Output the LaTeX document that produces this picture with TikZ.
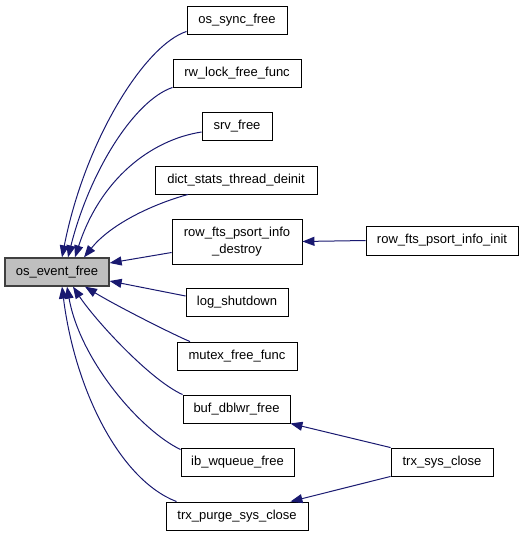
\documentclass[tikz,border=0pt]{standalone}
\usepackage{fontspec}
\setmainfont{Liberation Sans}
\usetikzlibrary{arrows.meta}
\definecolor{edgecol}{HTML}{191970}
\definecolor{mainfill}{HTML}{BFBFBF}
\definecolor{mainborder}{HTML}{404040}
\tikzset{
  fn/.style={draw=black, line width=0.9pt, fill=white, minimum height=28pt, inner sep=0pt, font=\fontsize{13}{16.5}\selectfont, align=center},
  mainfn/.style={fn, fill=mainfill, draw=mainborder, line width=1.3pt},
  call/.style={draw=edgecol, line width=1pt, -{Triangle[length=12pt,width=9pt]}},
}
\begin{document}
\begin{tikzpicture}[x=1pt,y=-1pt]
\useasboundingbox (0,0) rectangle (525,536);
\node[mainfn, minimum width=104pt] (main) at (57,272) {os\_event\_free};
\node[fn, minimum width=100pt] (sync) at (237,20) {os\_sync\_free};
\node[fn, minimum width=128pt] (rw) at (237,73) {rw\_lock\_free\_func};
\node[fn, minimum width=70pt] (srv) at (237,126) {srv\_free};
\node[fn, minimum width=162pt] (dict) at (236,180) {dict\_stats\_thread\_deinit};
\node[fn, minimum width=130pt, minimum height=45pt] (destroy) at (237,241.5) {row\_fts\_psort\_info\\\_destroy};
\node[fn, minimum width=152pt, minimum height=29pt] (init) at (442,240.5) {row\_fts\_psort\_info\_init};
\node[fn, minimum width=102pt] (log) at (237,302) {log\_shutdown};
\node[fn, minimum width=120pt] (mutex) at (237,356) {mutex\_free\_func};
\node[fn, minimum width=107pt] (buf) at (236.5,409) {buf\_dblwr\_free};
\node[fn, minimum width=113pt] (ibw) at (237.5,462) {ib\_wqueue\_free};
\node[fn, minimum width=142pt] (purge) at (237,516) {trx\_purge\_sys\_close};
\node[fn, minimum width=102pt] (trxsys) at (442,462) {trx\_sys\_close};

\draw[call] ([yshift=3pt]sync.south west) .. controls (145,45) and (85,140) .. ([xshift=5pt]main.north);
\draw[call] (rw.south west) .. controls (135,100) and (90,170) .. ([xshift=11pt]main.north);
\draw[call] ([yshift=-6pt]srv.west) .. controls (150,140) and (100,180) .. ([xshift=18pt]main.north);
\draw[call] ([xshift=-48pt]dict.south) .. controls (150,205) and (110,225) .. ([xshift=27pt]main.north);
\draw[call] ([yshift=-11pt]destroy.west) -- ([yshift=9pt]main.east);
\draw[call] ([yshift=6pt]log.west) -- ([yshift=-9pt]main.east);
\draw[call] ([xshift=-47pt]mutex.north) .. controls (170,333) and (115,305) .. ([xshift=28pt]main.south);
\draw[call] (buf.north west) .. controls (150,380) and (95,320) .. ([xshift=16pt]main.south);
\draw[call] ([yshift=-2pt]ibw.north west) .. controls (140,430) and (80,360) .. ([xshift=10pt]main.south);
\draw[call] ([xshift=11pt]purge.north west) .. controls (120,480) and (75,390) .. ([xshift=5pt]main.south);
\draw[call] (init.west) -- (destroy.east);
\draw[call] (trxsys.north west) -- (buf.south east);
\draw[call] (trxsys.south west) -- ([xshift=-18pt]purge.north east);
\end{tikzpicture}
\end{document}
